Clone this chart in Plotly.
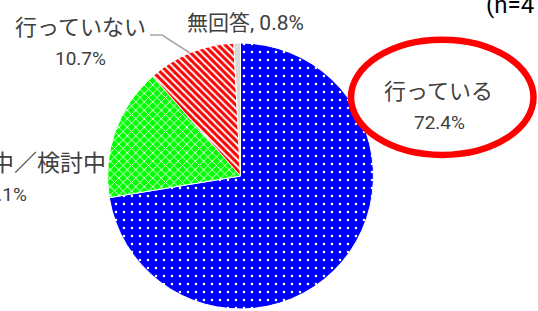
import plotly.graph_objects as go

# ---- data ----
labels = ["行っている", "計画中／検討中", "行っていない", "無回答"]
values = [72.4, 16.1, 10.7, 0.8]
colors = ["#0000FF", "#00FF00", "#FF0000", "#D9D9D9"]
sample_note = "(n=412)"

W, H = 538, 311


def px(x):
    return x / W


def py(y):
    return 1 - y / H


fig = go.Figure()
fig.add_trace(go.Pie(
    labels=labels,
    values=values,
    sort=False,
    direction="clockwise",
    rotation=0,
    textinfo="none",
    hoverinfo="none",
    showlegend=False,
    domain=dict(x=[px(240.5 - 133), px(240.5 + 133)], y=[py(309), py(43)]),
    marker=dict(
        colors=colors,
        line=dict(color="white", width=1),
        pattern=dict(
            shape=[".", "x", "\\", ""],
            fgcolor=["white", "white", "white", "white"],
            bgcolor=colors,
            size=[8, 6, 5, 8],
            solidity=[0.08, 0.28, 0.4, 0.3],
        ),
    ),
))

JP = "Roboto, Noto Sans CJK JP"
TXT = "#404040"
pct = [f"{v}%" for v in values]

ann = []
# 行っている (inside ellipse)
ann.append(dict(text=labels[0], x=px(438), y=py(92), xanchor="center", yanchor="middle",
                font=dict(family=JP, size=22, color=TXT)))
ann.append(dict(text=pct[0], x=px(439), y=py(122), xanchor="center", yanchor="middle",
                font=dict(family=JP, size=19, color=TXT)))
# green label (cut at left)
ann.append(dict(text=labels[1], x=px(108), y=py(164), xanchor="right", yanchor="middle",
                font=dict(family=JP, size=23, color=TXT)))
ann.append(dict(text=pct[1], x=px(29), y=py(195), xanchor="right", yanchor="middle",
                font=dict(family=JP, size=19, color=TXT)))
# 行っていない
ann.append(dict(text=labels[2], x=px(80), y=py(28), xanchor="center", yanchor="middle",
                font=dict(family=JP, size=22, color=TXT)))
ann.append(dict(text=pct[2], x=px(80), y=py(58), xanchor="center", yanchor="middle",
                font=dict(family=JP, size=19, color=TXT)))
# 無回答
ann.append(dict(text=f"{labels[3]}, {pct[3]}", x=px(246), y=py(23), xanchor="center", yanchor="middle",
                font=dict(family=JP, size=21, color=TXT)))
# sample size (cut at top-right)
ann.append(dict(text=sample_note, x=px(484), y=py(5.3), xanchor="left", yanchor="middle",
                font=dict(family=JP, size=24, color="black")))

for a in ann:
    a.update(xref="paper", yref="paper", showarrow=False)

shapes = [
    dict(type="circle", xref="paper", yref="paper",
         x0=px(351), x1=px(533.5), y0=py(155), y1=py(39.7),
         line=dict(color="#FF0000", width=6.5)),
    dict(type="path", xref="paper", yref="paper",
         path=f"M {px(150)} {py(35)} L {px(162)} {py(35)} L {px(190)} {py(53)}",
         line=dict(color="#A6A6A6", width=1.5)),
]

fig.update_layout(
    width=W, height=H,
    margin=dict(l=0, r=0, t=0, b=0),
    paper_bgcolor="white",
    plot_bgcolor="white",
    annotations=ann,
    shapes=shapes,
)

fig.write_html(
    "out.html",
    config={"displayModeBar": False},
    post_script="document.body.style.margin='0';document.body.style.overflow='hidden';",
)
